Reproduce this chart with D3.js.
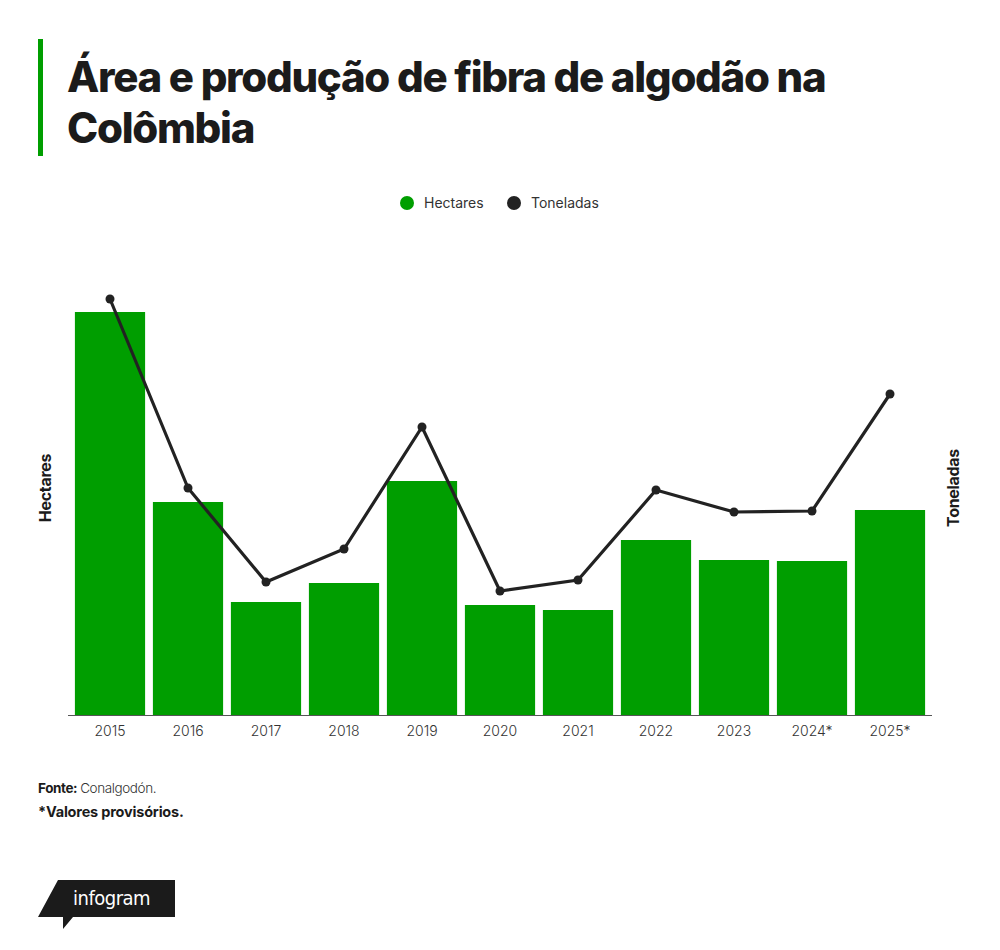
<!DOCTYPE html>
<html>
<head>
<meta charset="utf-8">
<script src="https://cdn.jsdelivr.net/npm/d3@7"></script>
<style>
  body { margin: 0; background: #fff; }
  svg { display: block; font-family: "Inter", "Roboto", sans-serif; }
</style>
</head>
<body>
<script>
// values (no axis ticks shown, so units are estimates)
var years = ["2015", "2016", "2017", "2018", "2019", "2020", "2021", "2022", "2023", "2024*", "2025*"];
var hectares = [40300, 21300, 11300, 13200, 23400, 11000, 10500, 17500, 15500, 15400, 20500];
var toneladas = [20800, 11350, 6650, 8300, 14400, 6200, 6750, 11250, 10150, 10200, 16050];
var seriesNames = ["Hectares", "Toneladas"];

var green = "#009e00";
var dark = "#222222";

var svg = d3.select("body")
    .append("svg")
    .attr("width", 1000)
    .attr("height", 950);

// title block
svg.append("rect")
    .attr("x", 38)
    .attr("y", 39)
    .attr("width", 5)
    .attr("height", 117)
    .attr("fill", green);
var title = svg.append("text")
    .attr("x", 67)
    .attr("font-size", 42)
    .attr("font-weight", 800)
    .attr("letter-spacing", -1.3)
    .attr("fill", "#1b1b1b");
title.append("tspan").attr("x", 67).attr("y", 92).text("Área e produção de fibra de algodão na");
title.append("tspan").attr("x", 67).attr("y", 143).text("Colômbia");

// legend
var legend = svg.append("g");
var legendX = [407, 514];
seriesNames.forEach(function (name, i) {
    legend.append("circle")
        .attr("cx", legendX[i])
        .attr("cy", 203)
        .attr("r", 7)
        .attr("fill", i === 0 ? green : dark);
    legend.append("text")
        .attr("x", legendX[i] + 17)
        .attr("y", 208)
        .attr("font-size", 14)
        .attr("fill", "#333")
        .text(name);
});

// scales
var x = d3.scaleBand()
    .domain(years)
    .range([71, 929])
    .paddingInner(0.1)
    .paddingOuter(0.05);
var yBar = d3.scaleLinear()
    .domain([0, 43000])
    .range([715, 285]);
var yLine = d3.scaleLinear()
    .domain([0, 21500])
    .range([715, 285]);

// bars
svg.append("g")
    .selectAll("rect")
    .data(hectares)
    .enter()
    .append("rect")
    .attr("x", function (d, i) { return x(years[i]); })
    .attr("y", function (d) { return yBar(d); })
    .attr("width", x.bandwidth())
    .attr("height", function (d) { return yBar(0) - yBar(d); })
    .attr("fill", green);

// x axis
var xAxis = svg.append("g")
    .attr("transform", "translate(0,715)")
    .call(d3.axisBottom(x).tickSize(0).tickPadding(11));
xAxis.select(".domain")
    .attr("d", "M68,0.5H932")
    .attr("stroke", "#555")
    .attr("stroke-width", 1);
xAxis.selectAll("text")
    .attr("font-size", 14)
    .attr("font-weight", 300)
    .attr("fill", "#333")
    .attr("font-family", "Inter, Roboto, sans-serif");

// line
var line = d3.line()
    .x(function (d, i) { return x(years[i]) + x.bandwidth() / 2; })
    .y(function (d) { return yLine(d); });
svg.append("path")
    .datum(toneladas)
    .attr("d", line)
    .attr("fill", "none")
    .attr("stroke", dark)
    .attr("stroke-width", 3.2);
svg.append("g")
    .selectAll("circle")
    .data(toneladas)
    .enter()
    .append("circle")
    .attr("cx", function (d, i) { return x(years[i]) + x.bandwidth() / 2; })
    .attr("cy", function (d) { return yLine(d); })
    .attr("r", 4.5)
    .attr("fill", dark);

// axis titles
svg.append("text")
    .attr("transform", "translate(51,488) rotate(-90)")
    .attr("text-anchor", "middle")
    .attr("font-size", 16)
    .attr("font-weight", 700)
    .attr("letter-spacing", -0.3)
    .attr("fill", "#1b1b1b")
    .text("Hectares");
svg.append("text")
    .attr("transform", "translate(959,488) rotate(-90)")
    .attr("text-anchor", "middle")
    .attr("font-size", 16)
    .attr("font-weight", 700)
    .attr("letter-spacing", -0.3)
    .attr("fill", "#1b1b1b")
    .text("Toneladas");

// footer
var src = svg.append("text")
    .attr("x", 38)
    .attr("y", 793)
    .attr("font-size", 13.5)
    .attr("letter-spacing", -0.4)
    .attr("fill", "#1b1b1b");
src.append("tspan").attr("font-weight", 700).text("Fonte:");
src.append("tspan").attr("dx", 3).attr("font-weight", 300).attr("fill", "#333").text("Conalgodón.");
svg.append("text")
    .attr("x", 38)
    .attr("y", 817)
    .attr("font-size", 14.5)
    .attr("font-weight", 700)
    .attr("letter-spacing", -0.2)
    .attr("fill", "#1b1b1b")
    .text("*Valores provisórios.");

// infogram logo
svg.append("path")
    .attr("d", "M58,880H175V917H73L63,929V917H38Z")
    .attr("fill", "#1b1b1b");
svg.append("text")
    .attr("x", 73)
    .attr("y", 905)
    .attr("font-size", 20)
    .attr("font-family", "'DejaVu Sans Condensed', 'Roboto', sans-serif")
    .attr("letter-spacing", -0.5)
    .attr("fill", "#fff")
    .text("infogram");
</script>
</body>
</html>
